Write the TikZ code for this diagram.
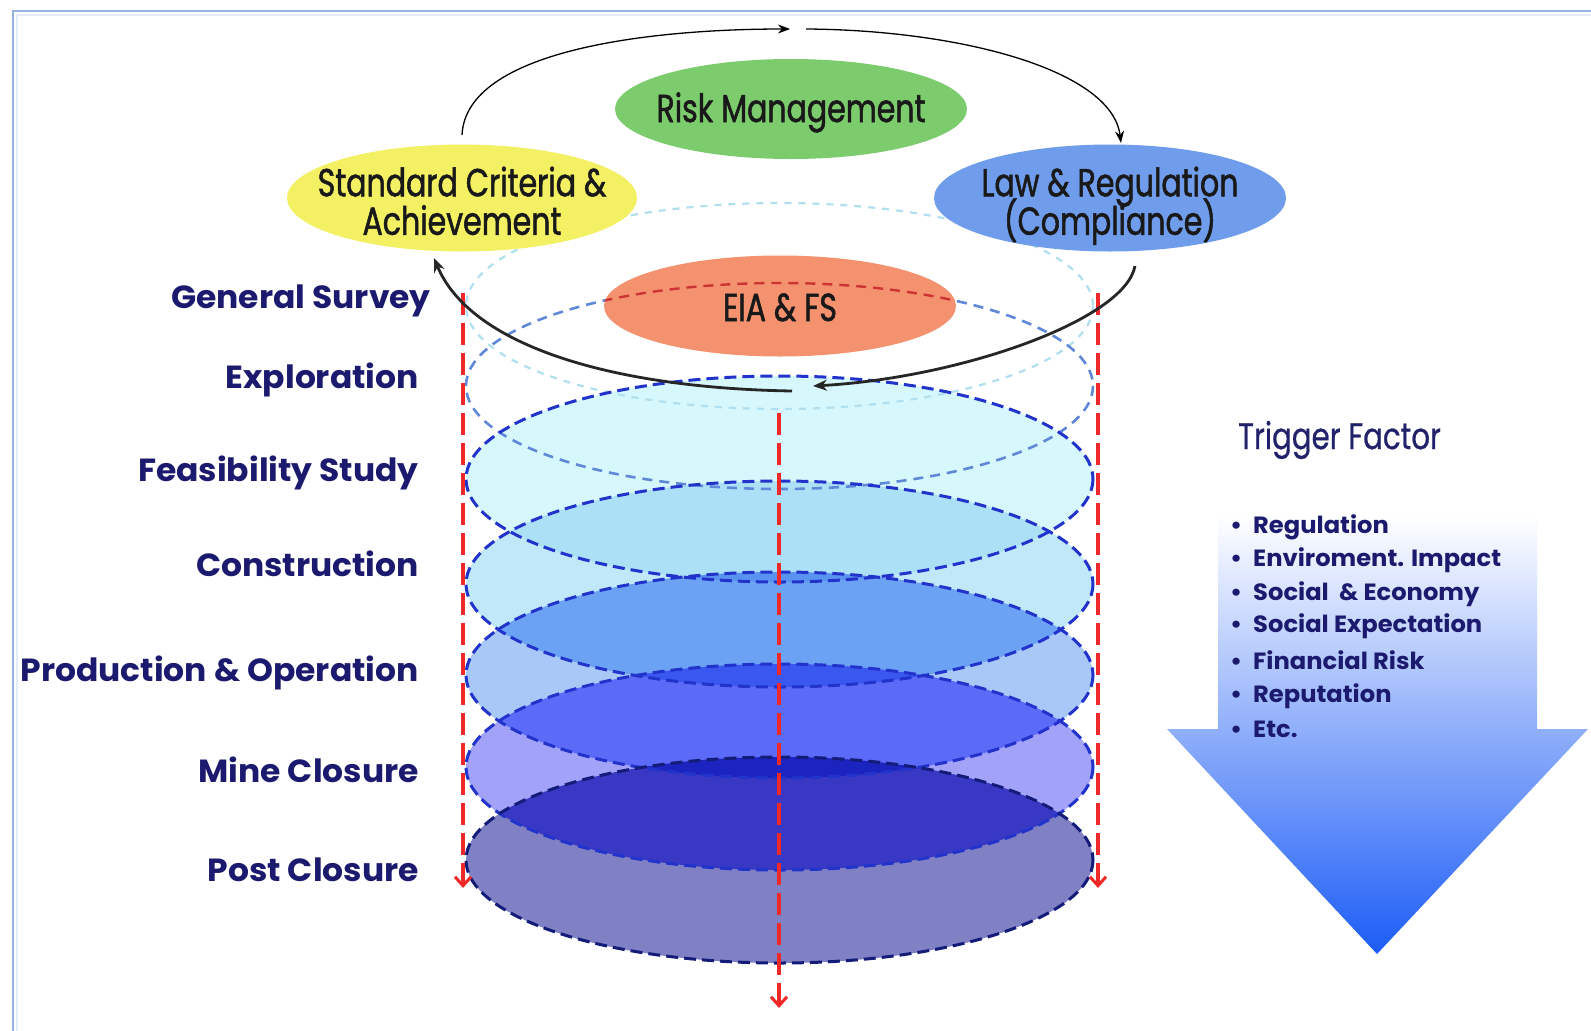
\documentclass[tikz,border=0pt]{standalone}
\usepackage{fontspec}
\setmainfont{Poppins}
\newfontfamily\cg[FakeStretch=1.03]{Poppins}
\newfontfamily\tw[FakeStretch=0.77, FakeBold=1.3]{Poppins}
\newfontfamily\twl[FakeStretch=0.79, FakeBold=0.6]{Poppins}
\usetikzlibrary{shapes.geometric,arrows.meta}
\definecolor{navy}{HTML}{1C1A6E}
\definecolor{navyb}{HTML}{22226A}
\definecolor{framec}{HTML}{94B4E4}
\definecolor{redc}{HTML}{F02828}
\definecolor{riskg}{HTML}{7CCB6C}
\definecolor{stdy}{HTML}{F3F163}
\definecolor{lawb}{HTML}{6F9CEB}
\definecolor{eias}{HTML}{F4926F}
\definecolor{eC2}{HTML}{D6F7FC}
\definecolor{eC3}{HTML}{C0E8F8}
\definecolor{eC3l}{HTML}{ACE0F6}
\definecolor{eC4}{HTML}{A8C8F8}
\definecolor{eC4l}{HTML}{6CA2F4}
\definecolor{eC4ll}{HTML}{5A92F0}
\definecolor{eC5}{HTML}{A2A2F8}
\definecolor{eC5l}{HTML}{5C6AF8}
\definecolor{eC5ll}{HTML}{3A58F0}
\definecolor{eC6}{HTML}{8080C4}
\definecolor{eC6l}{HTML}{3838C4}
\definecolor{eC6ll}{HTML}{1C24C0}
\definecolor{lineA}{HTML}{B0E0F0}
\definecolor{lineB}{HTML}{6088D8}
\definecolor{lineC}{HTML}{2233CC}
\definecolor{lineD}{HTML}{141C7A}
\definecolor{arrowblue}{HTML}{1C5CF6}
\definecolor{arrowmid}{HTML}{A4B8FC}
\newcommand\disc[1]{(c#1) ellipse [x radius=313.5, y radius=103]}
\newcommand\lowered[2]{\makebox[0pt]{\smash{\raisebox{#1}{#2}}}}
\tikzset{
  topell/.style={ellipse, inner xsep=0pt, inner ysep=-20pt, text=black!90,
    font=\tw\fontsize{39}{38.5}\selectfont, align=center},
  stage/.style={anchor=east, inner sep=0pt, text=navy,
    font=\cg\bfseries\fontsize{32}{32}\selectfont},
  bullet/.style={anchor=west, inner sep=0pt, text=navy,
    font=\cg\bfseries\fontsize{23.5}{23.5}\selectfont},
  cyc/.style={draw=black, line width=1.3pt, -{Stealth[length=12pt,width=9pt]}},
  cycb/.style={draw=black!85, line width=2.8pt, -{Stealth[length=14pt,width=11pt]}},
  reddash/.style={draw=redc, line width=3.4pt, dash pattern=on 22pt off 8pt,
    -{Straight Barb[length=9pt,width=16pt,line width=3pt]}},
  discline/.style={line width=3pt, dash pattern=on 12pt off 6pt}
}
\begin{document}
\begin{tikzpicture}[x=1pt,y=-1pt]
\useasboundingbox (0,0) rectangle (1591,1031);
\fill[white] (0,0) rectangle (1591,1031);
% frame
\draw[draw=framec, line width=2.5pt] (13,1031) -- (13,11) -- (1591,11);
\draw[draw=framec!25, line width=2pt] (16.5,1031) -- (16.5,14.5) -- (1591,14.5);

% disc centres
\foreach \n/\y in {0/306,1/386,2/479,3/584,4/675,5/767,6/860}
  {\coordinate (c\n) at (779.5,\y);}

% disc fills
\fill[eC2] \disc{2};
\fill[eC3] \disc{3};
\begin{scope}\clip \disc{2}; \fill[eC3l] \disc{3}; \end{scope}
\fill[eC4] \disc{4};
\begin{scope}\clip \disc{3}; \fill[eC4l] \disc{4}; \end{scope}
\begin{scope}\clip \disc{3}; \clip \disc{2}; \fill[eC4ll] \disc{4}; \end{scope}
\fill[eC5] \disc{5};
\begin{scope}\clip \disc{4}; \fill[eC5l] \disc{5}; \end{scope}
\begin{scope}\clip \disc{4}; \clip \disc{3}; \fill[eC5ll] \disc{5}; \end{scope}
\fill[eC6] \disc{6};
\begin{scope}\clip \disc{5}; \fill[eC6l] \disc{6}; \end{scope}
\begin{scope}\clip \disc{5}; \clip \disc{4}; \fill[eC6ll] \disc{6}; \end{scope}

% disc outlines
\draw[draw=lineA, line width=2.2pt, dash pattern=on 7pt off 7pt] \disc{0};
\draw[draw=lineB, line width=2.6pt, dash pattern=on 10pt off 7pt] \disc{1};
\draw[discline, draw=lineC] \disc{2};
\draw[discline, draw=lineC] \disc{3};
\draw[discline, draw=lineC] \disc{4};
\draw[discline, draw=lineC] \disc{5};
\draw[discline, draw=lineD] \disc{6};

% top ellipses
\node[topell, fill=riskg, minimum width=352pt, minimum height=100pt] (risk) at (791,109)
  {\lowered{-13pt}{Risk Management}};
\node[topell, fill=stdy, minimum width=350pt, minimum height=107pt] (std) at (462,198)
  {\lowered{-17.5pt}{Standard Criteria \&}\\\lowered{-17.5pt}{Achievement}};
\node[topell, fill=lawb, minimum width=352pt, minimum height=107pt] (law) at (1110,198)
  {\lowered{-17.5pt}{Law \& Regulation}\\\lowered{-17.5pt}{(Compliance)}};
\node[topell, fill=eias, minimum width=352pt, minimum height=101pt] (eia) at (780,306)
  {\lowered{-15pt}{EIA \& FS}};
\begin{scope}
  \clip (eia.center) ellipse [x radius=176, y radius=50.5];
  \draw[draw=red!75!black!80, line width=2.4pt, dash pattern=on 10pt off 7pt] \disc{1};
\end{scope}

% red dashed arrows
\coordinate (rl0) at (463,293); \coordinate (rl1) at (463,888);
\coordinate (rr0) at (1098,293); \coordinate (rr1) at (1098,888);
\coordinate (rc0) at (779,413); \coordinate (rc1) at (779,1008);
\draw[reddash] (rl0) -- (rl1);
\draw[reddash] (rr0) -- (rr1);
\draw[reddash] (rc0) -- (rc1);

% cycle arrows
\coordinate (a1) at (462,135); \coordinate (a2) at (790,29);
\coordinate (a3) at (806,29);  \coordinate (a4) at (1121,143);
\coordinate (a5) at (1135,266); \coordinate (a6) at (813,386);
\coordinate (a7) at (792,391); \coordinate (a8) at (434,258);
\draw[cyc] (a1) .. controls (466,50) and (650,29) .. (a2);
\draw[cyc] (a3) .. controls (960,30) and (1112,70) .. (a4);
\draw[cycb] (a5) .. controls (1125,320) and (960,378) .. (a6);
\draw[cycb] (a7) .. controls (610,388) and (470,345) .. (a8);

% stage labels
\node[stage] (gs) at (431,301) {General Survey};
\node[stage] (ex) at (419,380) {Exploration};
\node[stage] (fs) at (419,473) {Feasibility Study};
\node[stage] (co) at (419,564) {Construction};
\node[stage] (po) at (419,673) {Production \& Operation};
\node[stage] (mc) at (419,770) {Mine Closure};
\node[stage] (pc) at (419,870) {Post Closure};

% trigger arrow
\shade[top color=white, middle color=arrowmid, bottom color=arrowblue]
  (1218,515) -- (1537,515) -- (1537,729) -- (1588,729) -- (1377,954)
  -- (1167,729) -- (1218,729) -- cycle;
\node[anchor=west, inner sep=0pt, text=navyb, font=\twl\fontsize{37}{37}\selectfont]
  (tf) at (1238,440) {Trigger Factor};
\foreach \i/\y/\t in {1/527/Regulation, 2/560/Enviroment. Impact,
    3/594/Social\ \ \& Economy, 4/626/Social Expectation, 5/660/Financial Risk,
    6/696/Reputation, 7/729/Etc.}
  {\node[bullet] (b\i) at (1230,\y) {\makebox[23pt][l]{\textbullet}\t};}
\end{tikzpicture}
\end{document}
